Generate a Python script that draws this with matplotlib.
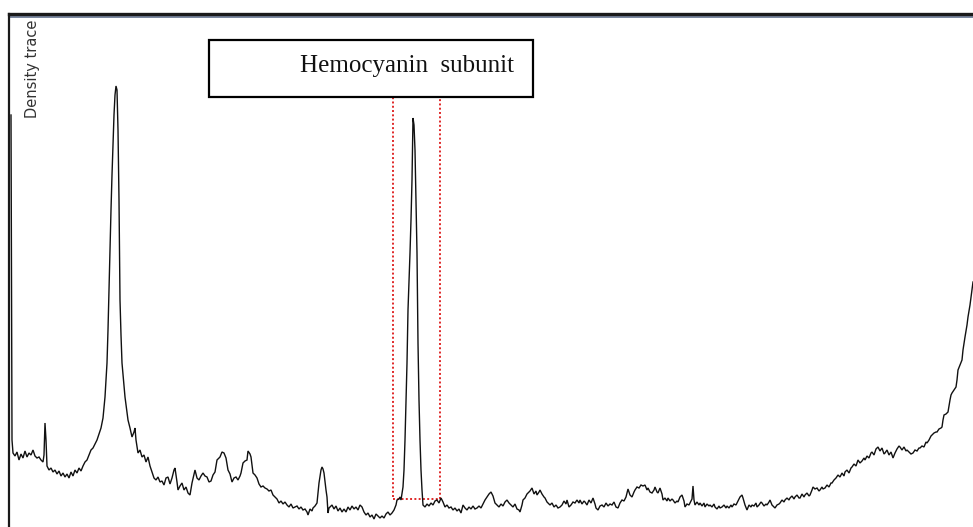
import matplotlib
import matplotlib.pyplot as plt
from matplotlib.patches import Rectangle

matplotlib.use('Agg')

# densitometer trace (position along lane, density)
position = [
    11, 12, 13, 15, 17, 19, 21, 23, 25, 27, 29, 31, 33, 35, 37, 39, 41, 43, 44, 45,
    46, 47, 49, 51, 53, 55, 57, 59, 61, 63, 65, 67, 69, 71, 73, 75, 77, 79, 81, 83,
    85, 87, 89, 91, 93, 95, 97, 99, 101, 103, 105, 107, 108, 109, 110, 111, 112, 113, 114, 115,
    116, 117, 118, 119, 120, 121, 122, 124, 125, 127, 128, 130, 132, 134, 135, 136, 138, 140, 142, 144,
    146, 148, 150, 152, 154, 156, 158, 160, 162, 164, 166, 168, 170, 172, 174, 175, 177, 178, 180, 182,
    184, 186, 188, 190, 192, 194, 195, 197, 199, 201, 203, 205, 207, 209, 211, 213, 215, 217, 219, 220,
    222, 224, 226, 228, 230, 232, 234, 236, 238, 240, 241, 243, 245, 247, 248, 250, 251, 253, 255, 257,
    259, 261, 263, 265, 267, 269, 271, 273, 275, 277, 279, 281, 283, 285, 287, 289, 291, 293, 295, 297,
    299, 301, 303, 305, 307, 308, 310, 312, 313, 315, 317, 319, 321, 322, 323, 324, 326, 327, 328, 329,
    330, 332, 334, 336, 338, 340, 342, 344, 346, 348, 350, 352, 354, 356, 358, 360, 362, 364, 366, 368,
    370, 372, 374, 376, 378, 380, 382, 384, 386, 388, 390, 392, 394, 396, 397, 399, 400, 401, 403, 404,
    405, 406, 407, 408, 410, 411, 412, 413, 414, 415, 416, 417, 418, 419, 420, 421, 422, 423, 425, 427,
    429, 431, 433, 435, 437, 439, 441, 443, 445, 447, 449, 451, 453, 455, 457, 459, 461, 463, 465, 467,
    469, 471, 473, 475, 477, 479, 481, 483, 485, 487, 489, 491, 493, 495, 497, 499, 501, 503, 505, 507,
    509, 511, 513, 515, 517, 519, 520, 522, 523, 525, 527, 528, 530, 532, 534, 536, 537, 539, 540, 542,
    544, 545, 547, 549, 550, 552, 554, 556, 558, 560, 562, 564, 566, 567, 569, 571, 573, 575, 577, 579,
    580, 582, 584, 585, 587, 589, 591, 593, 595, 596, 598, 600, 602, 604, 606, 608, 610, 612, 614, 616,
    618, 620, 622, 624, 626, 628, 630, 632, 634, 635, 637, 639, 641, 643, 645, 647, 648, 650, 652, 654,
    655, 657, 658, 660, 662, 663, 665, 667, 668, 670, 672, 673, 675, 677, 678, 680, 682, 684, 685, 687,
    689, 690, 692, 693, 694, 695, 697, 699, 700, 702, 704, 705, 707, 709, 710, 712, 714, 715, 717, 719,
    720, 722, 724, 726, 727, 729, 731, 732, 734, 736, 737, 739, 740, 742, 743, 745, 747, 749, 751, 752,
    754, 756, 757, 759, 761, 762, 764, 766, 767, 769, 770, 772, 774, 775, 777, 779, 780, 782, 784, 785,
    787, 789, 790, 792, 794, 795, 797, 799, 800, 802, 804, 805, 807, 809, 810, 812, 813, 815, 817, 819,
    820, 822, 823, 825, 827, 829, 831, 832, 834, 836, 838, 840, 842, 844, 845, 847, 849, 851, 852, 854,
    856, 858, 860, 862, 864, 865, 867, 869, 871, 872, 874, 876, 878, 880, 882, 884, 885, 887, 889, 891,
    893, 895, 897, 899, 900, 902, 904, 906, 907, 909, 911, 913, 915, 917, 919, 920, 922, 924, 926, 927,
    929, 931, 932, 934, 936, 937, 939, 941, 942, 943, 944, 946, 948, 950, 951, 952, 954, 956, 957, 958,
    960, 962, 963, 965, 967, 968, 970, 972, 973,
]
density = [
    412, 87, 74, 71, 75, 67, 73, 69, 76, 70, 74, 72, 77, 71, 69, 70, 67, 65, 72, 104,
    87, 61, 57, 59, 55, 57, 53, 56, 51, 54, 50, 53, 49, 55, 51, 57, 54, 59, 56, 61,
    65, 67, 72, 77, 79, 83, 87, 93, 99, 109, 130, 164, 197, 237, 277, 317, 352, 382, 412, 432,
    441, 437, 397, 327, 227, 192, 164, 142, 130, 115, 107, 99, 90, 95, 99, 87, 74, 77, 70, 72,
    65, 70, 61, 55, 49, 47, 50, 45, 46, 42, 49, 50, 43, 49, 57, 59, 45, 37, 41, 44,
    37, 40, 34, 32, 44, 53, 57, 49, 47, 51, 54, 51, 50, 45, 46, 52, 55, 67, 69, 70,
    75, 74, 69, 57, 53, 45, 49, 50, 47, 51, 54, 64, 66, 67, 76, 73, 70, 54, 52, 49,
    43, 40, 41, 39, 38, 36, 37, 32, 30, 28, 24, 26, 23, 25, 22, 20, 23, 19, 20, 21,
    18, 20, 17, 18, 15, 12, 18, 16, 19, 21, 24, 44, 57, 60, 58, 54, 37, 30, 14, 19,
    20, 22, 18, 21, 16, 19, 15, 18, 15, 20, 17, 21, 18, 20, 17, 22, 20, 15, 12, 14,
    10, 12, 8, 13, 11, 9, 11, 9, 13, 15, 12, 14, 17, 22, 27, 28, 30, 27, 40, 57,
    87, 127, 164, 217, 274, 307, 347, 409, 402, 377, 327, 274, 184, 127, 87, 57, 37, 22, 20, 23,
    21, 24, 22, 26, 27, 24, 29, 25, 20, 22, 19, 20, 17, 19, 16, 18, 14, 22, 19, 17,
    20, 18, 21, 18, 19, 21, 19, 23, 27, 30, 33, 35, 31, 24, 22, 20, 23, 21, 25, 27,
    24, 22, 20, 23, 18, 17, 15, 22, 27, 29, 33, 34, 36, 39, 33, 36, 32, 35, 37, 33,
    30, 29, 25, 23, 22, 24, 20, 22, 19, 20, 22, 26, 23, 27, 20, 22, 25, 24, 27, 24,
    27, 23, 26, 25, 22, 27, 24, 29, 23, 19, 17, 21, 22, 20, 24, 21, 23, 22, 25, 20,
    19, 24, 27, 26, 30, 38, 32, 30, 35, 37, 40, 39, 42, 41, 42, 37, 39, 35, 34, 37,
    40, 35, 34, 39, 33, 27, 29, 26, 29, 26, 28, 27, 24, 26, 25, 30, 32, 26, 20, 23,
    22, 24, 28, 41, 27, 22, 25, 22, 24, 21, 24, 20, 23, 21, 22, 20, 23, 20, 18, 21,
    19, 20, 22, 19, 21, 19, 22, 20, 23, 22, 24, 28, 30, 32, 29, 22, 17, 22, 20, 22,
    21, 24, 20, 22, 25, 24, 21, 23, 22, 25, 27, 22, 20, 19, 22, 23, 24, 27, 25, 27,
    29, 27, 29, 31, 28, 30, 32, 29, 29, 33, 30, 32, 34, 31, 32, 37, 40, 38, 39, 36,
    37, 40, 38, 39, 42, 40, 44, 44, 47, 49, 52, 50, 54, 51, 55, 57, 54, 59, 60, 63,
    61, 67, 64, 66, 69, 67, 71, 69, 74, 75, 72, 78, 80, 76, 79, 73, 74, 77, 72, 75,
    69, 74, 78, 81, 80, 77, 80, 76, 77, 75, 73, 74, 77, 76, 79, 79, 81, 80, 85, 84,
    87, 91, 92, 94, 95, 95, 98, 99, 100, 107, 112, 113, 115, 127, 132, 134, 137, 140, 147, 157,
    162, 167, 177, 190, 202, 210, 222, 237, 245,
]

label_text = "Hemocyanin  subunit"
axis_label = "Density trace"

fig = plt.figure(figsize=(9.73, 5.27), dpi=100)
ax = fig.add_axes([9 / 973, 0, 964 / 973, 513 / 527])
ax.set_xlim(9, 973)
ax.set_ylim(0, 513)
ax.set_xticks([])
ax.set_yticks([])
for side in ['right', 'bottom']:
    ax.spines[side].set_visible(False)
ax.spines['left'].set_linewidth(1.6)
ax.spines['left'].set_color('#1a1a1a')
ax.spines['top'].set_linewidth(2.4)
ax.spines['top'].set_color('#1a1a1a')
ax.axhline(510.5, color='#6d7c96', lw=1.3)

ax.plot(position, density, color='#111111', lw=1.0, solid_joinstyle='miter')

# highlighted band and its label box
ax.add_patch(Rectangle((393, 28), 47, 402, fill=False, edgecolor='#e02828',
                       linestyle=(0, (1, 1.2)), lw=1.4))
ax.add_patch(Rectangle((209, 430), 324, 57, fill=False, edgecolor='black', lw=1.6))
ax.text(300, 461, label_text, family='Liberation Serif', fontsize=18,
        ha='left', va='center', color='#111111')

ax.text(32, 507, axis_label, rotation=90, fontsize=10.5, family='DejaVu Sans',
        ha='center', va='top', color='#333333')

fig.savefig('out.png', dpi=100)
